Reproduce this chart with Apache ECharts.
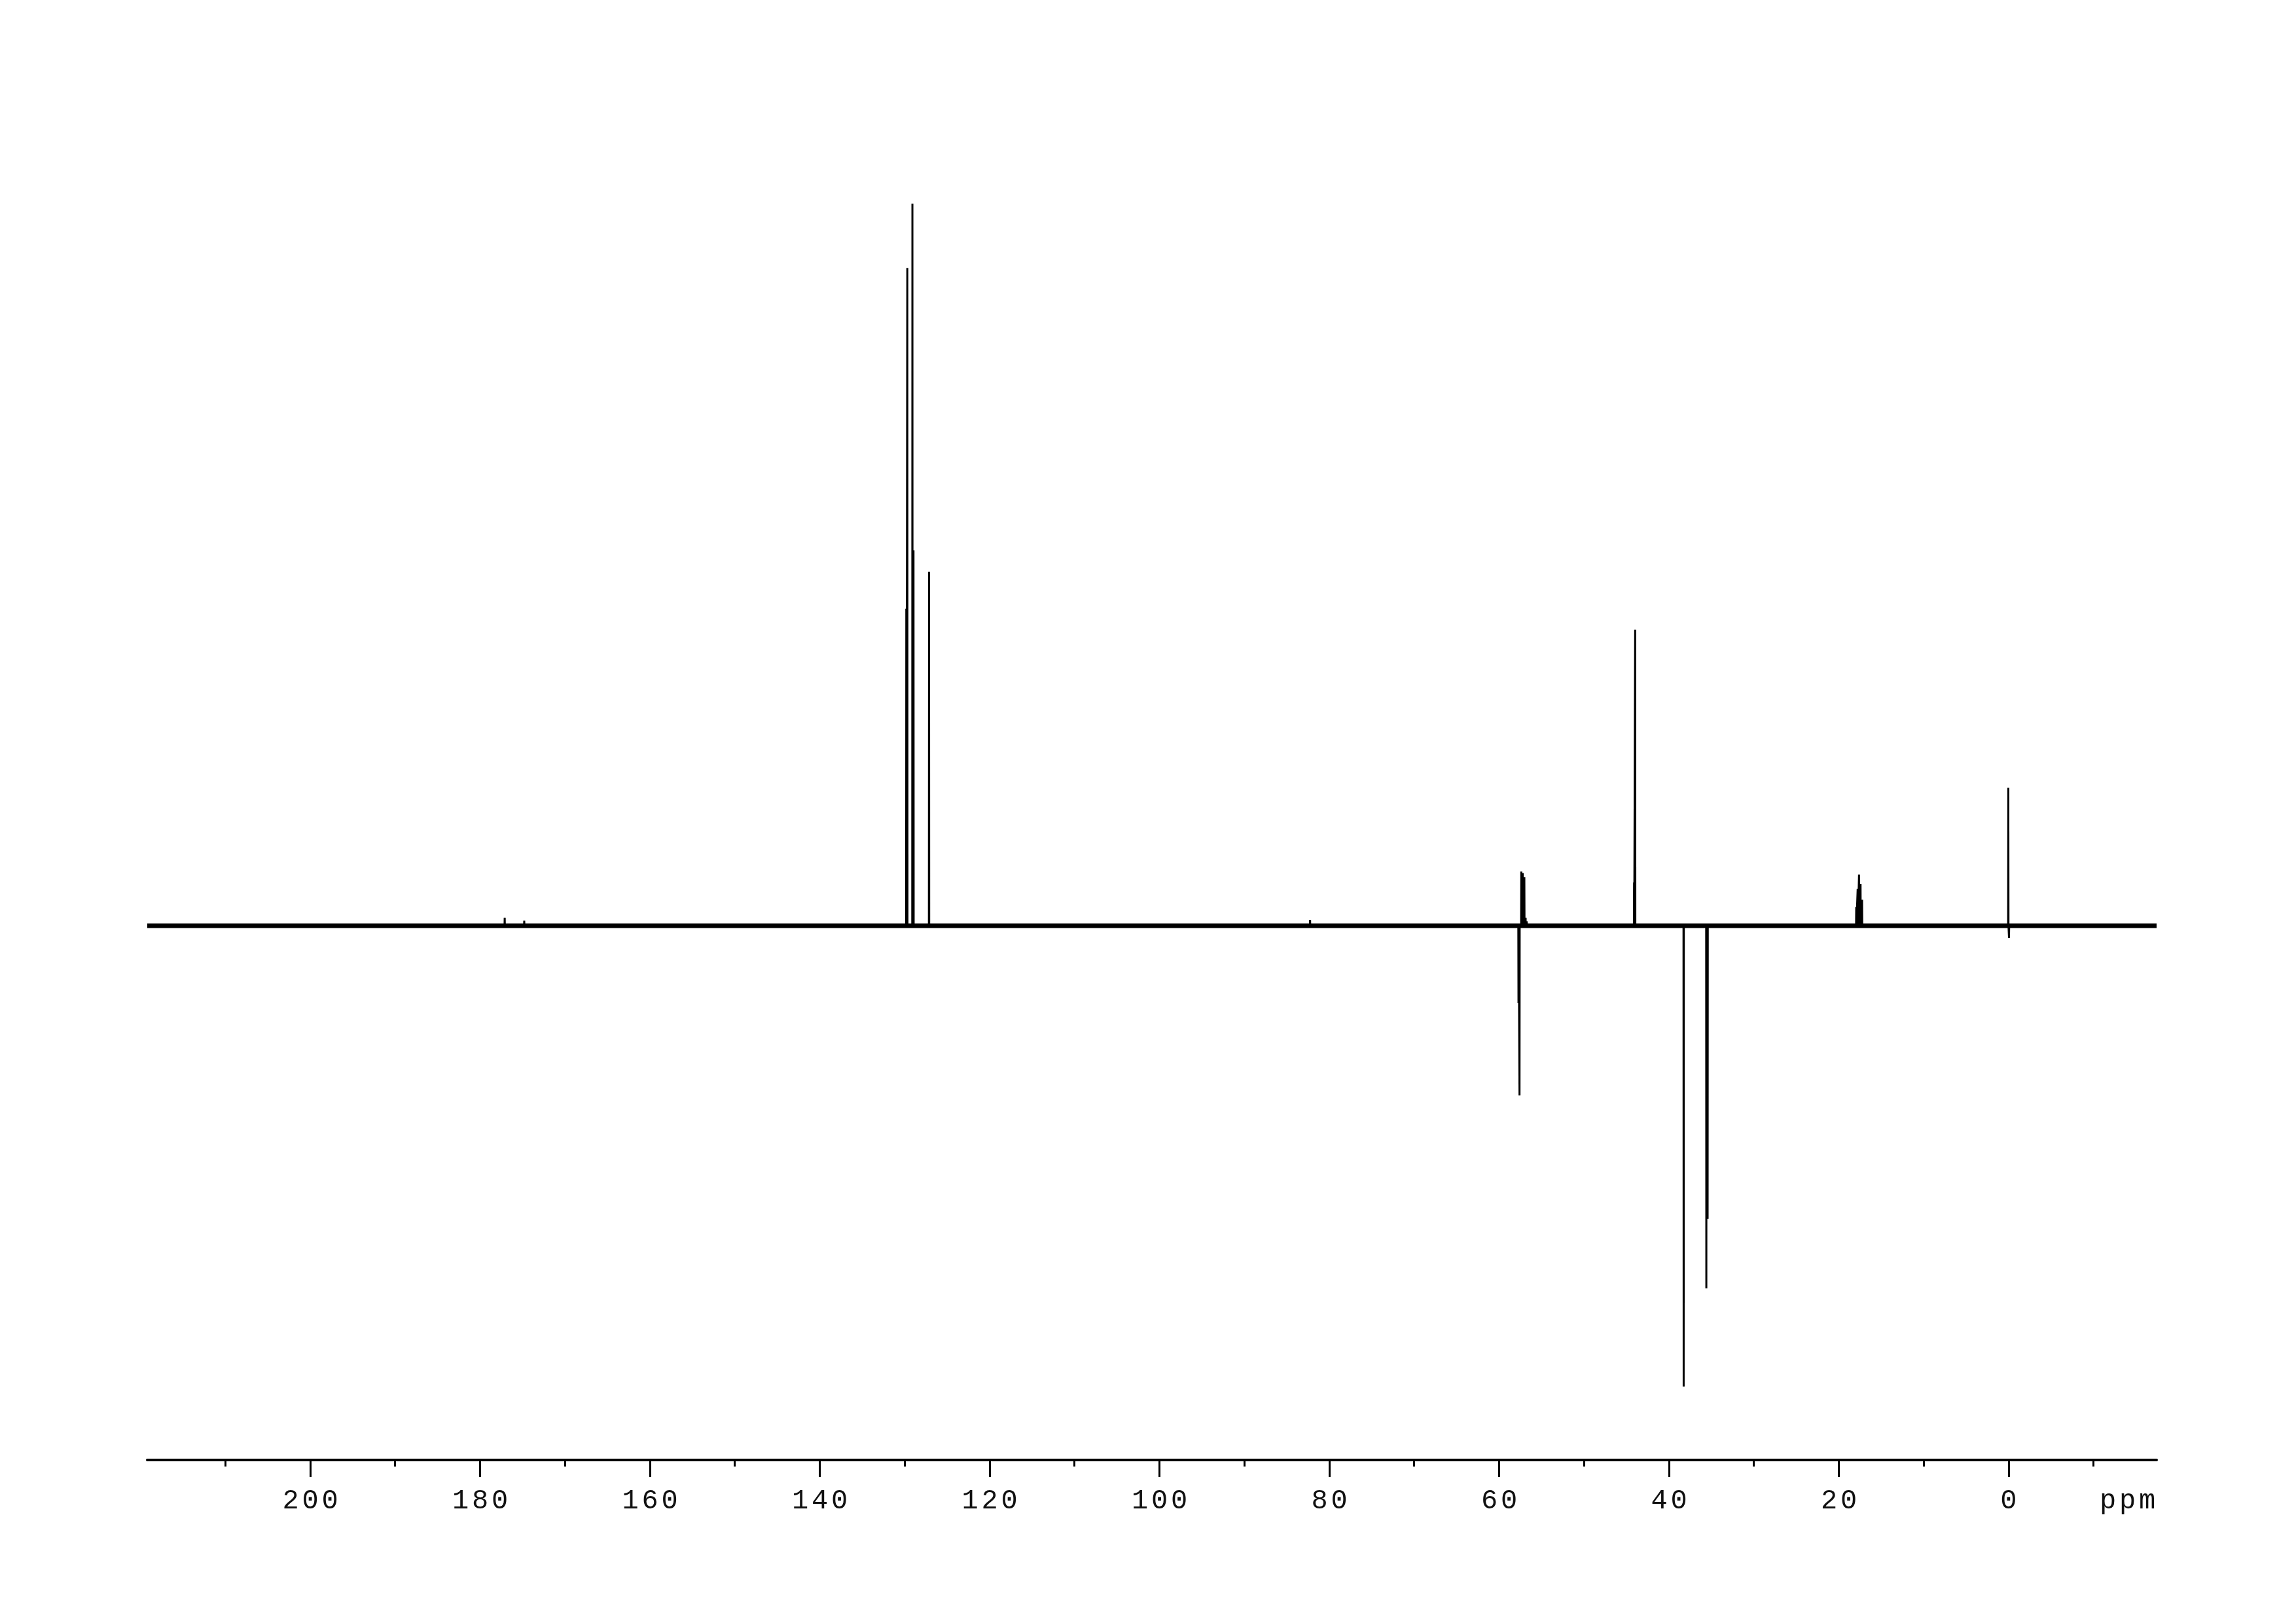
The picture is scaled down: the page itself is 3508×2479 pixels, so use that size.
<!DOCTYPE html>
<html>
<head>
<meta charset="utf-8">
<script src="https://cdn.jsdelivr.net/npm/echarts@6/dist/echarts.min.js"></script>
<style>
  html, body { margin: 0; padding: 0; background: #ffffff; }
  #chart { width: 3508px; height: 2479px; }
</style>
</head>
<body>
<div id="chart"></div>
<script>
// ---- data ----
// chemical-shift axis extent (ppm), axis is reversed (high ppm on the left)
const ppmMin = -17.42;
const ppmMax = 219.19;
// labelled major ticks (ppm)
const tickLabels = [0, 20, 40, 60, 80, 100, 120, 140, 160, 180, 200];
// unit label shown in the tick-label row
const unitLabel = 'ppm';
const unitLabelAt = -14;
// peak positions (ppm) and intensities (tallest = 100; negative = inverted)
const peakPpm = [177.1, 174.8, 129.81, 129.69, 129.09, 128.96, 127.13, 82.26,
                 57.72, 57.60, 57.39, 57.22, 57.03, 56.88, 56.75,
                 44.11, 43.98, 38.27, 35.60, 35.45,
                 17.95, 17.78, 17.62, 17.44, 17.26, 0.04, -0.04];
const peakIntensity = [1.1, 0.7, 43.9, 91.1, 100, 52.0, 49.0, 0.8,
                       -10.7, -23.5, 7.5, 7.3, 6.7, 1.1, 0.6,
                       6.0, 41.0, -63.8, -50.2, -40.6,
                       2.6, 5.1, 7.1, 5.8, 3.6, 19.1, -1.7];
// intensity range of the plotting frame
const intensityMin = -73.98;
const intensityMax = 110.06;

// ---- build stick spectrum from the peak list ----
const halfWidth = 0.02;
const spectrum = [[ppmMax, 0]];
peakPpm.forEach((p, i) => {
  spectrum.push([p + halfWidth, 0]);
  spectrum.push([p, peakIntensity[i]]);
  spectrum.push([p - halfWidth, 0]);
});
spectrum.push([ppmMin, 0]);
const baseline = [[ppmMax, 0], [ppmMin, 0]];

const labelFont = "'Liberation Mono', monospace";
function spacedLabel(text) {
  return String(text).split('').map(c => '{c|' + c + '}').join('');
}

const chart = echarts.init(document.getElementById('chart'), null, { renderer: 'canvas' });
chart.setOption({
  backgroundColor: '#ffffff',
  animation: false,
  grid: { left: 225, right: 213, top: 200, bottom: 249, containLabel: false },
  xAxis: {
    type: 'value',
    inverse: true,
    min: ppmMin,
    max: ppmMax,
    splitNumber: 12,
    axisLine: { show: true, onZero: false, lineStyle: { color: '#000', width: 4 } },
    axisTick: {
      show: true, inside: false, length: 26,
      customValues: tickLabels,
      lineStyle: { color: '#000', width: 3 }
    },
    minorTick: { show: true, splitNumber: 2, length: 10, lineStyle: { color: '#000', width: 3 } },
    splitLine: { show: false },
    minorSplitLine: { show: false },
    axisLabel: {
      show: true,
      margin: 42,
      customValues: [unitLabelAt].concat(tickLabels),
      formatter: function (v) {
        return spacedLabel(Math.abs(v - unitLabelAt) < 1e-6 ? unitLabel : v);
      },
      rich: {
        c: { width: 30, align: 'center', fontSize: 42, lineHeight: 42,
             fontFamily: labelFont, color: '#111' }
      }
    }
  },
  yAxis: {
    type: 'value',
    show: false,
    min: intensityMin,
    max: intensityMax,
    splitLine: { show: false }
  },
  series: [
    {
      name: 'baseline',
      type: 'line',
      data: baseline,
      symbol: 'none',
      silent: true,
      lineStyle: { color: '#000', width: 7 }
    },
    {
      name: 'spectrum',
      type: 'line',
      data: spectrum,
      symbol: 'none',
      sampling: null,
      silent: true,
      lineStyle: { color: '#000', width: 3, join: 'bevel' }
    }
  ]
});
</script>
</body>
</html>
